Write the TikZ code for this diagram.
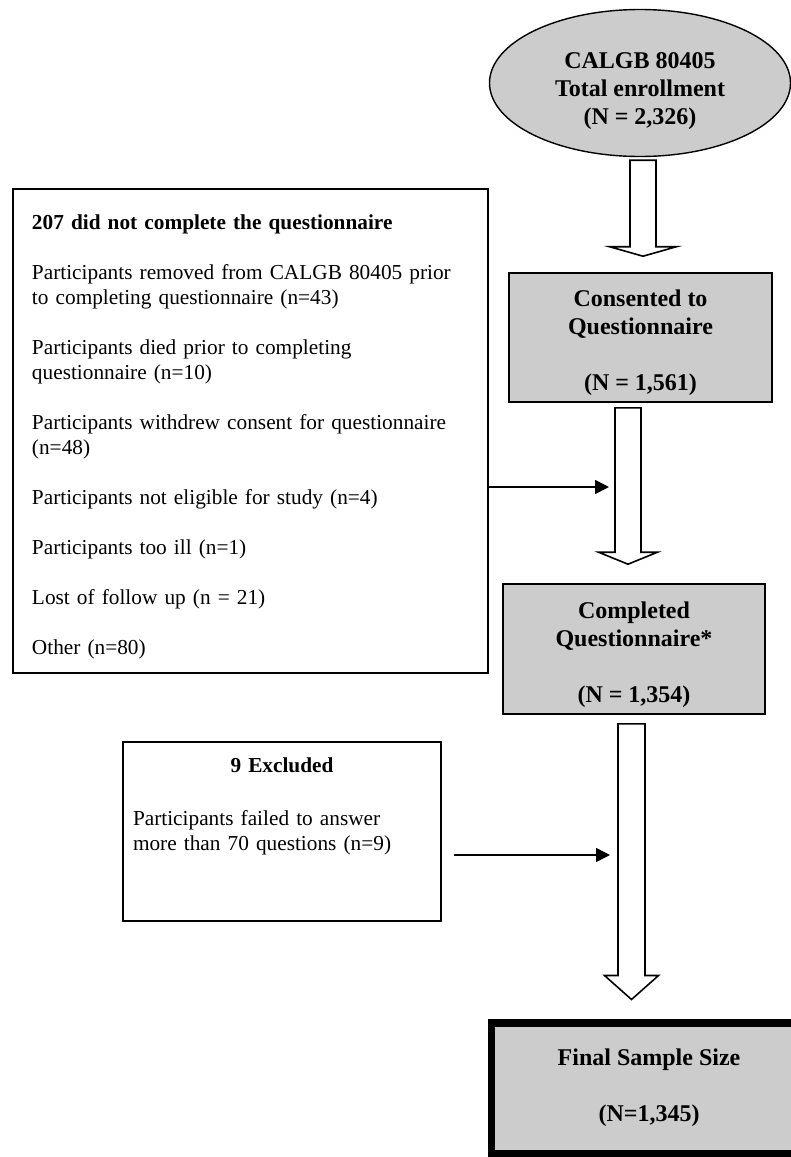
\documentclass[tikz,border=0pt]{standalone}
\usepackage{fontspec}
\setmainfont{Liberation Serif}
\usetikzlibrary{shapes.geometric,arrows.meta,calc}
\definecolor{boxgray}{RGB}{204,204,204}

\begin{document}
\begin{tikzpicture}[x=0.5pt,y=-0.5pt,
    grayfont/.style={font=\fontsize{12}{14}\selectfont\bfseries},
    plainfont/.style={font=\fontsize{10.65}{12.5}\selectfont},
    graybox/.style={draw,line width=0.8pt,fill=boxgray,align=center,inner sep=0pt,grayfont},
    whitebox/.style={draw,line width=0.8pt,inner sep=0pt},
    thinarrow/.style={line width=0.8pt,-{Triangle[length=7pt,width=7pt]}},
    fatarrow/.style n args={3}{draw,line width=0.8pt,fill=white,
      to path={let \p1=(\tikztostart), \p2=(\tikztotarget) in
        (\x1-#1,\y1) -- (\x1-#1,\y2+#3) -- (\x1-#2,\y2+#3) -- (\x1,\y2)
        -- (\x1+#2,\y2+#3) -- (\x1+#1,\y2+#3) -- (\x1+#1,\y1) -- cycle}}]

  \clip (0,0) rectangle (791,1157);

  \node[graybox,ellipse,line width=0.7pt,minimum width=150.5pt,minimum height=73.5pt] (ell) at (640,83)
    {\rule{0pt}{16pt}CALGB 80405\\Total enrollment\\(N = 2,326)};
  \node[graybox,minimum width=131.5pt,minimum height=64.5pt] (cons) at (640.5,337.5)
    {\rule{0pt}{13.2pt}Consented to\\Questionnaire\\[14pt](N = 1,561)};
  \node[graybox,minimum width=131pt,minimum height=65pt] (comp) at (634,649)
    {\rule{0pt}{14.2pt}Completed\\Questionnaire*\\[14pt](N = 1,354)};
  \node[graybox,line width=3.5pt,minimum width=157.75pt,minimum height=65.5pt] (final) at (649,1088)
    {Final Sample Size\\[14pt](N=1,345)};
  \draw[line width=1pt] ($(final.north west)+(6.5,6.5)$) rectangle ($(final.south east)+(-6.5,-6.5)$);

  \node[whitebox,plainfont,text width=218.5pt,align=left,minimum height=242pt,inner xsep=9.5pt] (drop) at (250.5,431)
    {\rule{0pt}{13.4pt}\textbf{207 did not complete the questionnaire}\\[12.5pt]
     Participants removed from CALGB 80405 prior\\
     to completing questionnaire (n=43)\\[12.5pt]
     Participants died prior to completing\\
     questionnaire (n=10)\\[12.5pt]
     Participants withdrew consent for questionnaire\\
     (n=48)\\[12.5pt]
     Participants not eligible for study (n=4)\\[12.5pt]
     Participants too ill (n=1)\\[12.5pt]
     Lost of follow up (n = 21)\\[12.5pt]
     Other (n=80)};

  \node[whitebox,minimum width=159pt,minimum height=89.5pt] (excl) at (282,831.5) {};
  \node[plainfont,text width=149pt,align=left,inner sep=0pt,anchor=north] (excltxt) at (282,757)
    {\makebox[\linewidth]{\textbf{9 Excluded}}\\[14pt]
     Participants failed to answer\\
     more than 70 questions (n=9)};

  \draw[fatarrow={6.5pt}{16.75pt}{4.75pt}] ($(ell.south)+(3,3)$) to ($(cons.north)+(3,-16)$);
  \draw[fatarrow={6.5pt}{14.75pt}{6pt}] ($(cons.south)+(-12.5,5)$) to ($(comp.north)+(-6,-19)$);
  \draw[fatarrow={6.75pt}{13.5pt}{12pt}] ($(comp.south)+(-2.5,9)$) to ($(final.north)+(-17.5,-19.5)$);

  \coordinate (in1) at (609,487);
  \coordinate (in2) at (610,855);
  \draw[thinarrow] (drop.east |- in1) -- (in1);
  \draw[thinarrow] ($(excl.east |- in2)+(12,0)$) -- (in2);
\end{tikzpicture}
\end{document}
